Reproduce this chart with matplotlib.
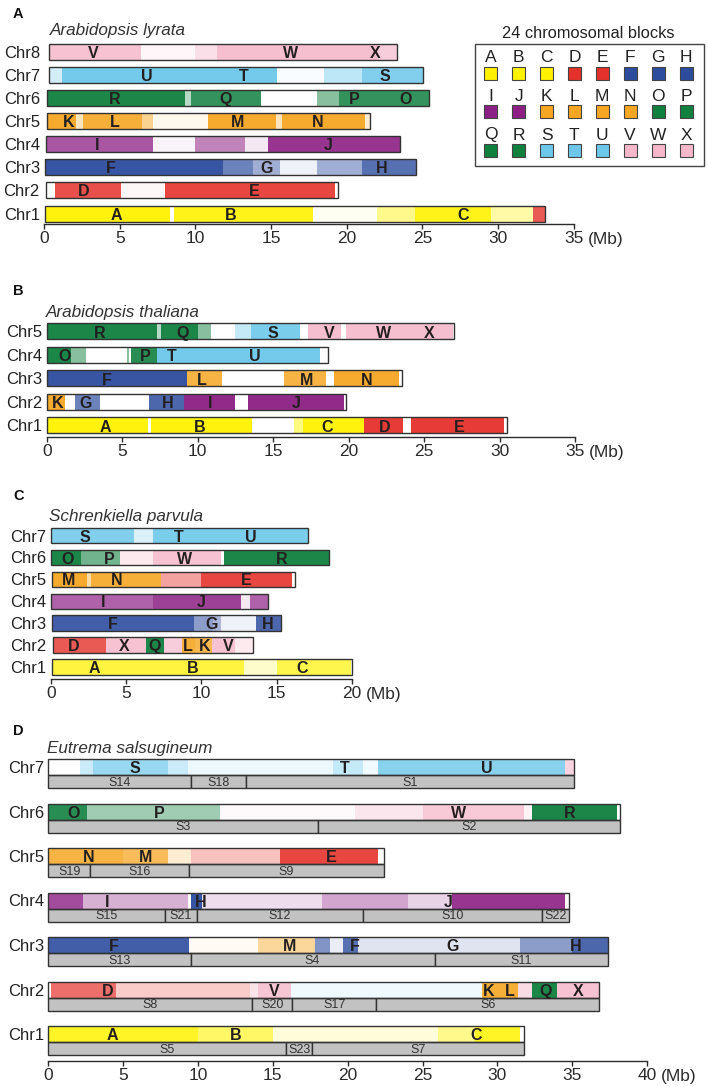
import matplotlib
matplotlib.use("Agg")
import matplotlib.pyplot as plt  # noqa: E402
from matplotlib.colors import to_rgb  # noqa: E402
from matplotlib.patches import Rectangle  # noqa: E402

plt.rcParams["font.family"] = ["Liberation Sans", "DejaVu Sans"]

W, H = 708, 1087
INK = "#2b2b2b"

# ─────────────────────────────────────────────
# BLOCK COLOURS
# ─────────────────────────────────────────────
BLOCKS = list("ABCDEFGHIJKLMNOPQRSTUVWX")
BLOCK_COLORS = {}
for letters, col in [("ABC", "#fff200"), ("DE", "#e5312b"), ("FGH", "#2d4c9e"),
                     ("IJ", "#8c1f84"), ("KLMN", "#f5a623"), ("OPQR", "#10803f"),
                     ("STU", "#6cc7ea"), ("VWX", "#f5b8cb")]:
    for b in letters:
        BLOCK_COLORS[b] = col

# ─────────────────────────────────────────────
# DATA  (positions in Mb; density = share of painted stripes)
# ─────────────────────────────────────────────
# A. Arabidopsis lyrata
lyrata_len = [(0.05, 33.1), (0.1, 19.4), (0.05, 24.6), (0.15, 23.5),
              (0.2, 21.5), (0.2, 25.4), (0.3, 25.0), (0.3, 23.3)]
lyrata_segs = [
    (1, 0.05, 8.3, "A", 0.95), (1, 8.6, 17.8, "B", 0.9), (1, 17.8, 22.0, "B", 0.05),
    (1, 22.0, 24.5, "C", 0.45), (1, 24.5, 29.5, "C", 0.9), (1, 29.5, 32.3, "C", 0.35),
    (1, 32.3, 33.1, "E", 0.8),
    (2, 0.7, 5.1, "D", 0.85), (2, 5.1, 8.0, "D", 0.04), (2, 8.0, 19.2, "E", 0.9),
    (3, 0.05, 11.8, "F", 0.95), (3, 11.8, 13.8, "F", 0.7), (3, 13.8, 15.6, "G", 0.45),
    (3, 15.6, 18.0, "G", 0.08), (3, 18.0, 21.0, "H", 0.45), (3, 21.0, 24.6, "H", 0.8),
    (4, 0.15, 7.2, "I", 0.75), (4, 7.2, 10.0, "I", 0.05), (4, 10.0, 13.3, "I", 0.55),
    (4, 13.3, 14.8, "J", 0.1), (4, 14.8, 23.5, "J", 0.9),
    (5, 0.2, 2.1, "K", 0.95), (5, 2.1, 2.6, "K", 0.3), (5, 2.6, 6.5, "L", 0.9),
    (5, 6.5, 7.2, "L", 0.5), (5, 7.2, 10.8, "L", 0.08), (5, 10.8, 15.3, "M", 0.95),
    (5, 15.3, 15.7, "M", 0.3), (5, 15.7, 21.2, "N", 0.95), (5, 21.2, 21.5, "N", 0.2),
    (6, 0.2, 9.3, "R", 0.95), (6, 9.3, 9.7, "R", 0.3), (6, 9.7, 14.3, "Q", 0.85),
    (6, 18.0, 19.5, "P", 0.5), (6, 19.5, 22.0, "P", 0.85), (6, 22.0, 25.4, "O", 0.85),
    (7, 0.3, 1.2, "U", 0.3), (7, 1.2, 15.4, "U", 0.95), (7, 15.4, 18.5, "T", 0.05),
    (7, 18.5, 21.0, "S", 0.45), (7, 21.0, 25.0, "S", 0.85),
    (8, 0.3, 6.4, "V", 0.85), (8, 6.4, 10.0, "V", 0.12), (8, 10.0, 11.4, "V", 0.45),
    (8, 11.4, 22.0, "W", 0.9), (8, 22.0, 23.3, "X", 0.7),
]
lyrata_labels = [
    (1, 4.8, "A"), (1, 12.3, "B"), (1, 27.7, "C"), (2, 2.6, "D"), (2, 13.9, "E"),
    (3, 4.4, "F"), (3, 14.7, "G"), (3, 22.3, "H"), (4, 3.5, "I"), (4, 18.8, "J"),
    (5, 1.6, "K"), (5, 4.7, "L"), (5, 12.8, "M"), (5, 18.1, "N"),
    (6, 4.7, "R"), (6, 12.0, "Q"), (6, 20.5, "P"), (6, 23.9, "O"),
    (7, 6.8, "U"), (7, 13.2, "T"), (7, 22.5, "S"),
    (8, 3.25, "V"), (8, 16.3, "W"), (8, 21.9, "X"),
]

# B. Arabidopsis thaliana
thaliana_len = [(0.0, 30.5), (0.0, 19.8), (0.0, 23.5), (0.0, 18.6), (0.0, 27.0)]
thaliana_segs = [
    (1, 0.0, 6.7, "A", 0.95), (1, 6.9, 13.6, "B", 0.95), (1, 16.4, 17.0, "C", 0.5),
    (1, 17.0, 21.0, "C", 0.95), (1, 21.0, 23.6, "D", 0.95), (1, 24.1, 30.3, "E", 0.95),
    (2, 0.1, 1.2, "K", 0.95), (2, 1.9, 3.5, "G", 0.7), (2, 6.8, 9.1, "H", 0.85),
    (2, 9.1, 12.5, "I", 0.95), (2, 13.3, 19.7, "J", 0.95),
    (3, 0.0, 9.3, "F", 0.95), (3, 9.3, 11.6, "L", 0.85), (3, 15.7, 18.5, "M", 0.85),
    (3, 19.0, 23.3, "N", 0.95),
    (4, 0.0, 1.6, "O", 0.95), (4, 1.6, 2.6, "O", 0.5), (4, 5.3, 5.45, "O", 0.5),
    (4, 5.6, 7.3, "P", 0.9), (4, 7.3, 18.1, "T", 0.95),
    (5, 0.0, 7.3, "R", 0.95), (5, 7.3, 7.6, "R", 0.3), (5, 7.6, 10.0, "Q", 0.95),
    (5, 10.0, 10.9, "Q", 0.5), (5, 12.5, 13.5, "S", 0.4), (5, 13.5, 16.8, "S", 0.9),
    (5, 17.3, 19.5, "V", 0.9), (5, 19.8, 26.9, "W", 0.9),
]
thaliana_labels = [
    (1, 3.9, "A"), (1, 10.1, "B"), (1, 18.6, "C"), (1, 22.4, "D"), (1, 27.3, "E"),
    (2, 0.7, "K"), (2, 2.6, "G"), (2, 8.0, "H"), (2, 10.8, "I"), (2, 16.5, "J"),
    (3, 4.0, "F"), (3, 10.3, "L"), (3, 17.2, "M"), (3, 21.2, "N"),
    (4, 1.2, "O"), (4, 6.5, "P"), (4, 8.3, "T"), (4, 13.8, "U"),
    (5, 3.5, "R"), (5, 9.0, "Q"), (5, 15.0, "S"), (5, 18.7, "V"), (5, 22.3, "W"),
    (5, 25.3, "X"),
]

# C. Schrenkiella parvula
parvula_len = [(0.1, 20.0), (0.15, 13.4), (0.1, 15.3), (0.05, 14.4),
               (0.1, 16.2), (0.05, 18.5), (0.05, 17.1)]
parvula_segs = [
    (1, 0.1, 12.8, "A", 0.75), (1, 12.8, 15.0, "C", 0.2), (1, 15.0, 19.9, "C", 0.7),
    (2, 0.15, 3.7, "D", 0.8), (2, 3.7, 6.3, "X", 0.85), (2, 6.3, 7.5, "Q", 0.95),
    (2, 7.5, 8.7, "X", 0.7), (2, 8.7, 9.6, "L", 0.9), (2, 9.6, 10.7, "K", 0.8),
    (2, 10.7, 12.2, "V", 0.85), (2, 12.2, 13.4, "V", 0.3),
    (3, 0.1, 9.5, "F", 0.9), (3, 9.5, 10.8, "G", 0.55), (3, 10.8, 11.3, "G", 0.4),
    (3, 11.3, 13.6, "G", 0.08), (3, 13.6, 15.3, "H", 0.85),
    (4, 0.05, 6.8, "I", 0.7), (4, 6.8, 12.6, "J", 0.85), (4, 12.6, 13.2, "J", 0.1),
    (4, 13.2, 14.4, "J", 0.7),
    (5, 0.1, 2.4, "M", 0.95), (5, 2.4, 2.7, "M", 0.4), (5, 2.7, 7.3, "N", 0.9),
    (5, 7.3, 10.0, "E", 0.45), (5, 10.0, 16.0, "E", 0.9),
    (6, 0.05, 2.0, "O", 0.95), (6, 2.0, 4.6, "P", 0.6), (6, 4.6, 6.8, "W", 0.3),
    (6, 6.8, 11.3, "W", 0.85), (6, 11.5, 18.5, "R", 0.95),
    (7, 0.05, 5.5, "S", 0.85), (7, 5.5, 6.8, "S", 0.25), (7, 6.8, 17.1, "T", 0.9),
]
parvula_labels = [
    (1, 2.9, "A"), (1, 9.4, "B"), (1, 16.7, "C"),
    (2, 1.5, "D"), (2, 4.9, "X"), (2, 6.9, "Q"), (2, 9.1, "L"), (2, 10.2, "K"),
    (2, 11.8, "V"), (3, 4.1, "F"), (3, 10.7, "G"), (3, 14.4, "H"),
    (4, 3.5, "I"), (4, 10.0, "J"), (5, 1.2, "M"), (5, 4.4, "N"), (5, 13.0, "E"),
    (6, 1.1, "O"), (6, 3.9, "P"), (6, 8.9, "W"), (6, 15.3, "R"),
    (7, 2.3, "S"), (7, 8.5, "T"), (7, 13.3, "U"),
]

# D. Eutrema salsugineum
salsug_len = [(0.0, 31.8), (0.0, 36.8), (0.0, 37.4), (0.0, 34.8),
              (0.0, 22.4), (0.0, 38.2), (0.0, 35.1)]
salsug_segs = [
    (1, 0.0, 10.0, "A", 0.85), (1, 10.0, 15.0, "B", 0.6), (1, 15.0, 26.0, "C", 0.15),
    (1, 26.0, 28.5, "C", 0.45), (1, 28.5, 31.5, "C", 0.85),
    (2, 0.2, 4.5, "D", 0.7), (2, 4.5, 13.5, "D", 0.25), (2, 13.5, 14.0, "V", 0.4),
    (2, 14.0, 16.2, "V", 0.8), (2, 16.2, 29.0, "S", 0.1), (2, 29.0, 30.0, "K", 0.9),
    (2, 30.0, 31.4, "L", 0.9), (2, 31.4, 32.3, "X", 0.5), (2, 32.3, 34.0, "Q", 0.95),
    (2, 34.0, 36.8, "X", 0.85),
    (3, 0.0, 9.4, "F", 0.9), (3, 9.4, 14.0, "M", 0.05), (3, 14.0, 17.8, "M", 0.45),
    (3, 17.8, 18.8, "F", 0.6), (3, 18.8, 19.7, "F", 0.1), (3, 19.7, 20.7, "F", 0.8),
    (3, 20.7, 31.5, "G", 0.15), (3, 31.5, 35.0, "H", 0.55), (3, 35.0, 37.4, "H", 0.85),
    (4, 0.0, 2.3, "I", 0.8), (4, 2.3, 9.3, "I", 0.35), (4, 9.5, 10.3, "H", 0.95),
    (4, 10.3, 18.3, "J", 0.15), (4, 18.3, 24.0, "J", 0.4), (4, 24.0, 27.0, "J", 0.2),
    (4, 27.0, 34.5, "J", 0.9),
    (5, 0.0, 5.0, "N", 0.85), (5, 5.0, 8.0, "M", 0.75), (5, 8.0, 9.5, "M", 0.2),
    (5, 9.5, 15.5, "E", 0.3), (5, 15.5, 22.0, "E", 0.9),
    (6, 0.0, 2.6, "O", 0.9), (6, 2.6, 11.5, "P", 0.4), (6, 11.5, 20.5, "W", 0.08),
    (6, 20.5, 25.0, "W", 0.35), (6, 25.0, 31.8, "W", 0.75), (6, 31.8, 32.3, "W", 0.15),
    (6, 32.3, 38.0, "R", 0.95),
    (7, 2.1, 3.0, "S", 0.35), (7, 3.0, 8.0, "S", 0.7), (7, 8.0, 9.3, "S", 0.35),
    (7, 9.3, 19.0, "T", 0.12), (7, 19.0, 21.0, "T", 0.4), (7, 21.0, 22.0, "T", 0.1),
    (7, 22.0, 34.5, "U", 0.8), (7, 34.5, 35.1, "V", 0.6),
]
salsug_labels = [
    (1, 4.3, "A"), (1, 12.5, "B"), (1, 28.6, "C"),
    (2, 4.0, "D"), (2, 15.1, "V"), (2, 29.4, "K"), (2, 30.8, "L"), (2, 33.2, "Q"),
    (2, 35.4, "X"),
    (3, 4.4, "F"), (3, 16.1, "M"), (3, 20.5, "F"), (3, 27.0, "G"), (3, 35.2, "H"),
    (4, 3.9, "I"), (4, 10.2, "H"), (4, 26.7, "J"),
    (5, 2.7, "N"), (5, 6.5, "M"), (5, 18.9, "E"),
    (6, 1.7, "O"), (6, 7.4, "P"), (6, 27.4, "W"), (6, 34.8, "R"),
    (7, 5.8, "S"), (7, 19.8, "T"), (7, 29.3, "U"),
]
salsug_sblocks = [
    (1, 0.0, 15.9, "S5"), (1, 15.9, 17.6, "S23"), (1, 17.6, 31.8, "S7"),
    (2, 0.0, 13.6, "S8"), (2, 13.6, 16.3, "S20"), (2, 16.3, 21.9, "S17"),
    (2, 21.9, 36.8, "S6"),
    (3, 0.0, 9.5, "S13"), (3, 9.5, 25.8, "S4"), (3, 25.8, 37.4, "S11"),
    (4, 0.0, 7.8, "S15"), (4, 7.8, 9.9, "S21"), (4, 9.9, 21.0, "S12"),
    (4, 21.0, 33.0, "S10"), (4, 33.0, 34.8, "S22"),
    (5, 0.0, 2.8, "S19"), (5, 2.8, 9.4, "S16"), (5, 9.4, 22.4, "S9"),
    (6, 0.0, 18.0, "S3"), (6, 18.0, 38.2, "S2"),
    (7, 0.0, 9.5, "S14"), (7, 9.5, 13.2, "S18"), (7, 13.2, 35.1, "S1"),
]


# ─────────────────────────────────────────────
# HELPERS
# ─────────────────────────────────────────────
def _shade(block, density):
    r, g, b = to_rgb(BLOCK_COLORS[block])
    return (1 - density * (1 - r), 1 - density * (1 - g), 1 - density * (1 - b))


def _panel_axes(fig, zero_px, ppm, xmax, axis_px, row0_px, gap_px, nrows):
    top_px = row0_px - gap_px * (nrows - 1) - gap_px * 0.6
    ax = fig.add_axes([zero_px / W, 1 - axis_px / H,
                       xmax * ppm / W, (axis_px - top_px) / H])
    ax.set_xlim(0, xmax)
    ax.set_ylim(-(axis_px - row0_px) / gap_px, nrows - 1 + 0.6)
    ax.patch.set_alpha(0)
    for side in ("top", "right", "left"):
        ax.spines[side].set_visible(False)
    ax.spines["bottom"].set_color(INK)
    ax.spines["bottom"].set_linewidth(1.0)
    ax.set_xticks(range(0, xmax + 1, 5))
    ax.tick_params(axis="x", length=3.5, width=1.0, color=INK, pad=1.5,
                   labelsize=12.5, labelcolor=INK)
    ax.tick_params(axis="y", length=0, pad=3, labelsize=12, labelcolor="#222")
    ax.set_yticks(range(nrows), [f"Chr{i + 1}" for i in range(nrows)])
    ax.annotate("(Mb)", xy=(xmax, 0), xycoords=("data", "axes fraction"),
                xytext=(10, -5.5), textcoords="offset points",
                ha="left", va="top", fontsize=12.5, color=INK)
    return ax


def _draw_chroms(ax, lengths, segs, labels, bar_h):
    for chrom, s, e, blk, dens in segs:
        ax.barh(chrom - 1, e - s, left=s, height=bar_h, color=_shade(blk, dens),
                linewidth=0, clip_on=False, zorder=2)
    for i, (s, e) in enumerate(lengths):
        ax.barh(i, e - s, left=s, height=bar_h, fill=False, edgecolor="#333",
                linewidth=1.0, clip_on=False, zorder=3)
    for chrom, x, letter in labels:
        ax.text(x, chrom - 1 - bar_h * 0.1, letter, ha="center", va="center",
                fontsize=11.5, fontweight="bold", color="#231f20", zorder=4)


# ─────────────────────────────────────────────
# FIGURE
# ─────────────────────────────────────────────
fig = plt.figure(figsize=(W / 100, H / 100), dpi=100)
canvas = fig.add_axes([0, 0, 1, 1])
canvas.set_xlim(0, W)
canvas.set_ylim(H, 0)
canvas.axis("off")

# panel A
gap_a = 23.1
ax_a = _panel_axes(fig, 44, 15.14, 35, 224, 213.5, gap_a, 8)
_draw_chroms(ax_a, lyrata_len, lyrata_segs, lyrata_labels, 16 / gap_a)

# panel B
gap_b = 23.5
ax_b = _panel_axes(fig, 46.7, 15.1, 35, 437, 425.5, gap_b, 5)
_draw_chroms(ax_b, thaliana_len, thaliana_segs, thaliana_labels, 16 / gap_b)

# panel C
gap_c = 21.9
ax_c = _panel_axes(fig, 50.7, 15.07, 20, 679, 667, gap_c, 7)
_draw_chroms(ax_c, parvula_len, parvula_segs, parvula_labels, 15.5 / gap_c)

# panel D (colour bar + grey synteny block bar underneath)
gap_d = 44.5
ax_d = _panel_axes(fig, 48.3, 14.97, 40, 1061, 1034, gap_d, 7)
bar_d = 16 / gap_d
grey_d = 13 / gap_d
_draw_chroms(ax_d, salsug_len, salsug_segs, salsug_labels, bar_d)
for chrom, s, e, name in salsug_sblocks:
    yc = chrom - 1 - bar_d / 2 - grey_d / 2
    ax_d.barh(yc, e - s, left=s, height=grey_d, color="#c2c2c2",
              edgecolor="#333", linewidth=1.0, clip_on=False, zorder=2)
    ax_d.text((s + e) / 2, yc - grey_d * 0.1, name, ha="center", va="center",
              fontsize=9, color="#333", zorder=4)

# panel letters and species names
for letter, y in [("A", 14), ("B", 291), ("C", 496), ("D", 731)]:
    canvas.text(13, y, letter, ha="left", va="center", fontsize=10.5,
                fontweight="bold", color="#111")
for name, x, y in [("Arabidopsis lyrata", 50, 30), ("Arabidopsis thaliana", 46, 312),
                   ("Schrenkiella parvula", 49, 516), ("Eutrema salsugineum", 47, 748)]:
    canvas.text(x, y, name, ha="left", va="center", fontsize=12.3, style="italic",
                color="#333")

# legend of the 24 blocks
canvas.add_patch(Rectangle((475, 44), 229, 122, fill=False, edgecolor="#444",
                           linewidth=1.0))
canvas.text(588, 33, "24 chromosomal blocks", ha="center", va="center",
            fontsize=11.8, color="#222")
for k, blk in enumerate(BLOCKS):
    row, col = divmod(k, 8)
    cx = 490.7 + col * 27.9
    cy = 58 + row * 38.5
    canvas.text(cx, cy, blk, ha="center", va="center", fontsize=12.5, color="#222")
    canvas.add_patch(Rectangle((cx - 6.5, cy + 8.5), 13, 13,
                               facecolor=BLOCK_COLORS[blk], edgecolor="#444",
                               linewidth=0.8))

fig.savefig("out.png", dpi=100)
